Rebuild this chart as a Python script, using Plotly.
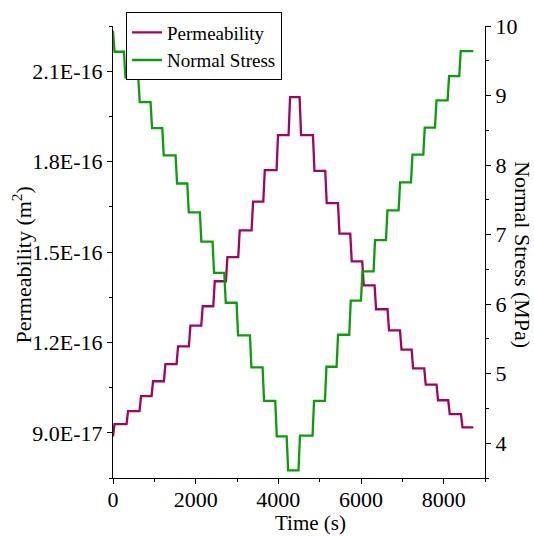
import plotly.graph_objects as go

# ---------------- data ----------------
# Normal stress (MPa): value at t=0, then plateau levels and switch times (s)
stress_start = 9.93
stress_levels = [9.63, 9.26, 8.905, 8.53, 8.14, 7.735, 7.32, 6.898, 6.45, 6.02,
                 5.55, 5.09, 4.61, 4.10, 3.61, 4.11, 4.61, 5.10, 5.56, 6.05,
                 6.47, 6.92, 7.35, 7.75, 8.15, 8.54, 8.93, 9.28, 9.64]
stress_switch = [283, 629, 927, 1210, 1532, 1815, 2120, 2427, 2710, 3008,
                 3331, 3637, 3944, 4220, 4506, 4846, 5146, 5427, 5734, 6017,
                 6322, 6622, 6928, 7227, 7525, 7808, 8113, 8395]

# Permeability (m^2): value at t=0, plateau levels and switch times (s)
perm_start = 8.88e-17
perm_levels = [9.29e-17, 9.72e-17, 1.022e-16, 1.071e-16, 1.128e-16, 1.187e-16,
               1.256e-16, 1.320e-16, 1.403e-16, 1.483e-16, 1.572e-16, 1.667e-16,
               1.772e-16, 1.888e-16, 2.014e-16, 1.888e-16, 1.769e-16, 1.662e-16,
               1.561e-16, 1.469e-16, 1.389e-16, 1.310e-16, 1.240e-16, 1.176e-16,
               1.114e-16, 1.060e-16, 1.008e-16, 9.62e-17, 9.18e-17]
perm_switch = [346, 660, 951, 1250, 1556, 1855, 2153, 2444, 2750, 3048,
               3371, 3654, 3975, 4266, 4532, 4856, 5153, 5461, 5758, 6048,
               6347, 6660, 6962, 7243, 7548, 7846, 8129, 8437]

t_end = 8717

time_tickvals = [0, 2000, 4000, 6000, 8000]
perm_tickvals = [9.0e-17, 1.2e-16, 1.5e-16, 1.8e-16, 2.1e-16]
perm_ticktext = ["9.0E-17", "1.2E-16", "1.5E-16", "1.8E-16", "2.1E-16"]
stress_tickvals = [4, 5, 6, 7, 8, 9, 10]

# ---------------- build step vertices ----------------
RAMP = 18  # half-width of each transition (s), styling only


def steps(start, levels, switches, end):
    xs, ys = [0, 2 * RAMP], [start, levels[0]]
    for i, T in enumerate(switches):
        xs += [T - RAMP, T + RAMP]
        ys += [levels[i], levels[i + 1]]
    xs.append(end)
    ys.append(levels[-1])
    return xs, ys


px_, py_ = steps(perm_start, perm_levels, perm_switch, t_end)
sx_, sy_ = steps(stress_start, stress_levels, stress_switch, t_end)

FONT = "'Liberation Serif', 'Times New Roman', Times, serif"
PURPLE = "#A0055F"
GREEN = "#0A9E0A"

fig = go.Figure()
fig.add_trace(go.Scatter(x=px_, y=py_, mode="lines", name="Permeability",
                         line=dict(color=PURPLE, width=2.3), yaxis="y"))
fig.add_trace(go.Scatter(x=sx_, y=sy_, mode="lines", name="Normal Stress",
                         line=dict(color=GREEN, width=2.3), yaxis="y2"))

axis_common = dict(showline=True, linecolor="black", linewidth=1.2,
                   ticks="outside", ticklen=5, tickwidth=1.2, tickcolor="black",
                   showgrid=False, zeroline=False,
                   tickfont=dict(family=FONT, size=22, color="black"))

fig.update_layout(
    width=534, height=536,
    margin=dict(l=113, r=49, t=20, b=58),
    paper_bgcolor="white", plot_bgcolor="white",
    font=dict(family=FONT, size=22, color="black"),
    xaxis=dict(range=[0, 9000], tickvals=time_tickvals,
               ticklabelstandoff=-4,
               minor=dict(tick0=0, dtick=1000, ticks="outside", ticklen=3,
                          tickcolor="black", tickwidth=1.2),
               **axis_common),
    yaxis=dict(range=[7.5e-17, 2.25e-16], tickvals=perm_tickvals,
               ticktext=perm_ticktext,
               minor=dict(tick0=7.5e-17, dtick=1.5e-17, ticks="outside",
                          ticklen=3, tickcolor="black", tickwidth=1.2),
               **axis_common),
    yaxis2=dict(range=[3.5, 10], overlaying="y", side="right", anchor="x",
                tickvals=stress_tickvals,
                minor=dict(tick0=3.5, dtick=0.5, ticks="outside", ticklen=3,
                           tickcolor="black", tickwidth=1.2),
                **axis_common),
    legend=dict(x=0.035, y=1.03, xanchor="left", yanchor="top",
                bgcolor="white", bordercolor="black", borderwidth=1,
                font=dict(family=FONT, size=19, color="black"),
                tracegroupgap=0),
    showlegend=True,
    annotations=[
        dict(text="Time (s)", xref="paper", yref="paper", x=0.53, y=-0.1,
             xanchor="center", yanchor="middle", showarrow=False,
             borderpad=0, font=dict(family=FONT, size=21)),
        dict(text="Permeability (m<sup>2</sup>)", xref="paper", yref="paper",
             x=-0.245, y=0.472, xanchor="center", yanchor="middle",
             textangle=-90, showarrow=False, font=dict(family=FONT, size=22)),
        dict(text="Normal Stress (MPa)", xref="paper", yref="paper",
             x=1.102, y=0.493, xanchor="center", yanchor="middle",
             textangle=90, showarrow=False, font=dict(family=FONT, size=22)),
    ],
)

fig.write_html("out.html")
